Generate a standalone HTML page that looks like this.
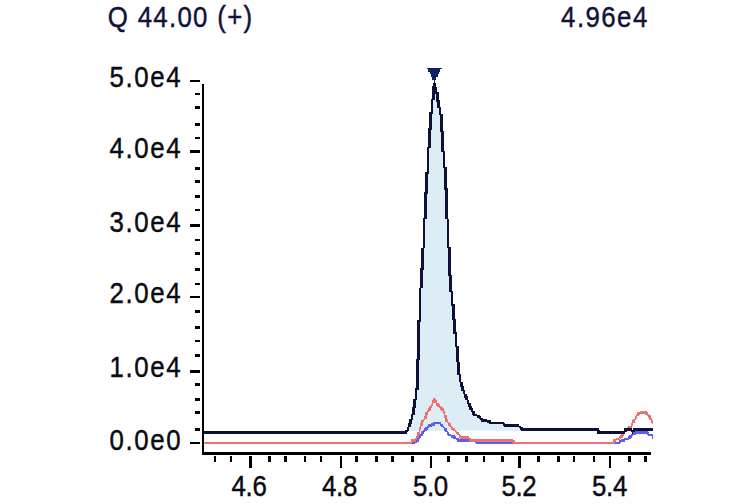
<!DOCTYPE html>
<html><head><meta charset="utf-8"><title>Chromatogram</title>
<style>
html,body{margin:0;padding:0;background:#fff;}
body{width:756px;height:504px;overflow:hidden;font-family:"Liberation Sans",sans-serif;}
svg{display:block;font-family:"Liberation Sans",sans-serif;}
</style></head><body>
<svg width="756" height="504" viewBox="0 0 756 504">
<rect x="0" y="0" width="756" height="504" fill="#ffffff"/>
<polygon points="408.5,430.7 409.2,425.8 411.4,420 413.2,412 414.5,405 415.7,398 416.8,388 417.7,366 419,340 419,330 420.2,298 421.3,275 423,260 423.2,251 424.3,227 425.3,202 427,180 428.2,155 429.5,135 431.2,114 432.7,100 433.6,90 434.3,83.5 436.3,90 437.7,100 440.7,114 441.8,128 442.7,145 444.3,163 445.7,182 447,212 448.7,248 449.8,273 451,288 452.3,301 453.5,314 454.8,328 456.2,340 457.3,354 458.5,367 459.8,378 461.5,385 464,392 466.8,399 469.3,405 472.3,411 474,414.3 478.2,416 482.3,420.2 488.2,421.3 490.7,423 503.2,423.5 505.7,425.5 518.5,425.8 521.8,429.2 521.8,430.7" fill="#dcedf5"/>
<g fill="#5c5cf6" shape-rendering="crispEdges">
<rect x="433.33" y="421.66" width="8" height="1.33"/>
<rect x="430.67" y="423" width="10.67" height="1.33"/>
<rect x="428" y="424.33" width="6.67" height="1.33"/>
<rect x="440" y="424.33" width="2.67" height="1.33"/>
<rect x="426.67" y="425.66" width="5.33" height="1.33"/>
<rect x="441.33" y="425.66" width="2.67" height="1.33"/>
<rect x="442.67" y="427" width="2.67" height="1.33"/>
<rect x="425.33" y="427" width="4" height="1.33"/>
<rect x="424" y="428.33" width="4" height="1.33"/>
<rect x="444" y="428.33" width="2.67" height="2.67"/>
<rect x="422.67" y="429.66" width="4" height="1.33"/>
<rect x="445.33" y="431" width="2.67" height="1.33"/>
<rect x="634.67" y="431" width="13.33" height="1.33"/>
<rect x="421.33" y="431" width="4" height="1.33"/>
<rect x="446.67" y="432.33" width="2.67" height="1.33"/>
<rect x="421.33" y="432.33" width="2.67" height="1.33"/>
<rect x="632" y="432.33" width="17.33" height="1.33"/>
<rect x="446.67" y="433.66" width="4" height="1.33"/>
<rect x="420" y="433.66" width="2.67" height="1.33"/>
<rect x="646.67" y="433.66" width="6.67" height="1.33"/>
<rect x="630.67" y="433.66" width="5.33" height="1.33"/>
<rect x="448" y="435" width="6.67" height="1.33"/>
<rect x="629.33" y="435" width="4" height="1.33"/>
<rect x="418.67" y="435" width="4" height="1.33"/>
<rect x="648" y="435" width="5.33" height="1.33"/>
<rect x="450.67" y="436.33" width="5.33" height="1.33"/>
<rect x="418.67" y="436.33" width="2.67" height="1.33"/>
<rect x="628" y="436.33" width="4" height="1.33"/>
<rect x="652" y="436.33" width="1.33" height="2.67"/>
<rect x="417.33" y="437.66" width="2.67" height="1.33"/>
<rect x="624" y="437.66" width="6.67" height="1.33"/>
<rect x="453.33" y="437.66" width="5.33" height="1.33"/>
<rect x="456" y="439" width="20" height="1.33"/>
<rect x="621.33" y="439" width="8" height="1.33"/>
<rect x="416" y="439" width="2.67" height="1.33"/>
<rect x="618.67" y="440.33" width="6.67" height="1.33"/>
<rect x="413.33" y="440.33" width="5.33" height="1.33"/>
<rect x="457.33" y="440.33" width="20" height="1.33"/>
<rect x="412" y="441.66" width="5.33" height="1.33"/>
<rect x="474.67" y="441.66" width="146.67" height="1.33"/>
<rect x="476" y="443" width="144" height="1.33"/>
<rect x="412" y="443" width="2.67" height="1.33"/>
</g>
<g fill="#ea7272" shape-rendering="crispEdges">
<rect x="433.33" y="397.66" width="1.33" height="1.33"/>
<rect x="433.33" y="399" width="2.67" height="1.33"/>
<rect x="432" y="400.33" width="5.33" height="2.67"/>
<rect x="436" y="403" width="2.67" height="1.33"/>
<rect x="432" y="403" width="1.33" height="1.33"/>
<rect x="430.67" y="404.33" width="2.67" height="1.33"/>
<rect x="436" y="404.33" width="4" height="1.33"/>
<rect x="437.33" y="405.66" width="4" height="1.33"/>
<rect x="429.33" y="405.66" width="2.67" height="2.67"/>
<rect x="438.67" y="407" width="4" height="1.33"/>
<rect x="428" y="408.33" width="2.67" height="1.33"/>
<rect x="440" y="408.33" width="4" height="1.33"/>
<rect x="426.67" y="409.66" width="4" height="1.33"/>
<rect x="441.33" y="409.66" width="2.67" height="1.33"/>
<rect x="640" y="411" width="6.67" height="1.33"/>
<rect x="426.67" y="411" width="2.67" height="1.33"/>
<rect x="442.67" y="411" width="2.67" height="2.67"/>
<rect x="637.33" y="412.33" width="10.67" height="1.33"/>
<rect x="425.33" y="412.33" width="2.67" height="2.67"/>
<rect x="636" y="413.66" width="4" height="1.33"/>
<rect x="645.33" y="413.66" width="4" height="1.33"/>
<rect x="444" y="413.66" width="1.33" height="1.33"/>
<rect x="425.33" y="415" width="1.33" height="1.33"/>
<rect x="646.67" y="415" width="4" height="1.33"/>
<rect x="636" y="415" width="2.67" height="1.33"/>
<rect x="444" y="415" width="2.67" height="2.67"/>
<rect x="648" y="416.33" width="2.67" height="1.33"/>
<rect x="634.67" y="416.33" width="2.67" height="2.67"/>
<rect x="424" y="416.33" width="2.67" height="2.67"/>
<rect x="445.33" y="417.66" width="1.33" height="1.33"/>
<rect x="649.33" y="417.66" width="2.67" height="2.67"/>
<rect x="422.67" y="419" width="2.67" height="1.33"/>
<rect x="633.33" y="419" width="2.67" height="1.33"/>
<rect x="445.33" y="419" width="2.67" height="2.67"/>
<rect x="421.33" y="420.33" width="2.67" height="1.33"/>
<rect x="632" y="420.33" width="2.67" height="2.67"/>
<rect x="650.67" y="420.33" width="2.67" height="2.67"/>
<rect x="446.67" y="421.66" width="2.67" height="1.33"/>
<rect x="421.33" y="421.66" width="1.33" height="1.33"/>
<rect x="652" y="423" width="1.33" height="1.33"/>
<rect x="420" y="423" width="2.67" height="2.67"/>
<rect x="630.67" y="423" width="2.67" height="2.67"/>
<rect x="448" y="423" width="2.67" height="2.67"/>
<rect x="449.33" y="425.66" width="2.67" height="1.33"/>
<rect x="628" y="425.66" width="4" height="1.33"/>
<rect x="420" y="425.66" width="1.33" height="1.33"/>
<rect x="626.67" y="427" width="5.33" height="1.33"/>
<rect x="450.67" y="427" width="2.67" height="1.33"/>
<rect x="418.67" y="427" width="2.67" height="2.67"/>
<rect x="450.67" y="428.33" width="4" height="1.33"/>
<rect x="625.33" y="428.33" width="4" height="1.33"/>
<rect x="624" y="429.66" width="4" height="1.33"/>
<rect x="453.33" y="429.66" width="2.67" height="1.33"/>
<rect x="418.67" y="429.66" width="1.33" height="2.67"/>
<rect x="622.67" y="431" width="4" height="1.33"/>
<rect x="454.67" y="431" width="2.67" height="1.33"/>
<rect x="622.67" y="432.33" width="2.67" height="1.33"/>
<rect x="456" y="432.33" width="2.67" height="1.33"/>
<rect x="417.33" y="432.33" width="2.67" height="2.67"/>
<rect x="621.33" y="433.66" width="2.67" height="1.33"/>
<rect x="457.33" y="433.66" width="2.67" height="1.33"/>
<rect x="417.33" y="435" width="1.33" height="1.33"/>
<rect x="620" y="435" width="4" height="1.33"/>
<rect x="458.67" y="435" width="2.67" height="1.33"/>
<rect x="458.67" y="436.33" width="10.67" height="1.33"/>
<rect x="416" y="436.33" width="2.67" height="1.33"/>
<rect x="618.67" y="436.33" width="4" height="1.33"/>
<rect x="460" y="437.66" width="10.67" height="1.33"/>
<rect x="616" y="437.66" width="5.33" height="1.33"/>
<rect x="414.67" y="437.66" width="2.67" height="1.33"/>
<rect x="613.33" y="439" width="6.67" height="1.33"/>
<rect x="469.33" y="439" width="44" height="1.33"/>
<rect x="410.67" y="439" width="6.67" height="1.33"/>
<rect x="469.33" y="440.33" width="45.33" height="1.33"/>
<rect x="613.33" y="440.33" width="2.67" height="1.33"/>
<rect x="410.67" y="440.33" width="5.33" height="1.33"/>
<rect x="512" y="441.66" width="102.67" height="1.33"/>
<rect x="202.67" y="441.66" width="209.33" height="2.67"/>
<rect x="513.33" y="443" width="101.33" height="1.33"/>
</g>
<g fill="#0f1038" shape-rendering="crispEdges">
<rect x="433.33" y="83" width="2.67" height="2.67"/>
<rect x="432" y="85.66" width="4" height="1.33"/>
<rect x="432" y="87" width="5.33" height="5.33"/>
<rect x="432" y="92.33" width="6.67" height="1.33"/>
<rect x="432" y="93.66" width="2.67" height="5.33"/>
<rect x="436" y="93.66" width="2.67" height="6.67"/>
<rect x="430.67" y="99" width="4" height="1.33"/>
<rect x="436" y="100.33" width="4" height="1.33"/>
<rect x="437.33" y="101.66" width="2.67" height="5.33"/>
<rect x="437.33" y="107" width="4" height="1.33"/>
<rect x="430.67" y="100.33" width="2.67" height="12"/>
<rect x="438.67" y="108.33" width="2.67" height="5.33"/>
<rect x="429.33" y="112.33" width="4" height="1.33"/>
<rect x="438.67" y="113.66" width="4" height="1.33"/>
<rect x="429.33" y="113.66" width="2.67" height="14.67"/>
<rect x="428" y="128.33" width="4" height="1.33"/>
<rect x="440" y="115" width="2.67" height="16"/>
<rect x="440" y="131" width="4" height="1.33"/>
<rect x="428" y="129.66" width="2.67" height="17.33"/>
<rect x="426.67" y="147" width="4" height="1.33"/>
<rect x="441.33" y="132.33" width="2.67" height="18.67"/>
<rect x="441.33" y="151" width="4" height="1.33"/>
<rect x="442.67" y="152.33" width="2.67" height="14.67"/>
<rect x="442.67" y="167" width="4" height="1.33"/>
<rect x="426.67" y="148.33" width="2.67" height="24"/>
<rect x="425.33" y="172.33" width="4" height="1.33"/>
<rect x="444" y="168.33" width="2.67" height="20"/>
<rect x="444" y="188.33" width="4" height="1.33"/>
<rect x="425.33" y="173.66" width="2.67" height="18.67"/>
<rect x="424" y="192.33" width="4" height="1.33"/>
<rect x="424" y="193.66" width="2.67" height="24"/>
<rect x="445.33" y="189.66" width="2.67" height="29.33"/>
<rect x="422.67" y="217.66" width="4" height="1.33"/>
<rect x="446.67" y="219" width="2.67" height="28"/>
<rect x="422.67" y="219" width="2.67" height="29.33"/>
<rect x="446.67" y="247" width="4" height="1.33"/>
<rect x="421.33" y="248.33" width="2.67" height="20"/>
<rect x="420" y="268.33" width="4" height="1.33"/>
<rect x="448" y="248.33" width="2.67" height="26.67"/>
<rect x="448" y="275" width="4" height="1.33"/>
<rect x="420" y="269.66" width="2.67" height="18.67"/>
<rect x="449.33" y="276.33" width="2.67" height="14.67"/>
<rect x="449.33" y="291" width="4" height="1.33"/>
<rect x="450.67" y="292.33" width="2.67" height="12"/>
<rect x="450.67" y="304.33" width="4" height="1.33"/>
<rect x="452" y="305.66" width="2.67" height="13.33"/>
<rect x="418.67" y="288.33" width="2.67" height="32"/>
<rect x="452" y="319" width="4" height="1.33"/>
<rect x="417.33" y="320.33" width="4" height="1.33"/>
<rect x="453.33" y="320.33" width="2.67" height="12"/>
<rect x="453.33" y="332.33" width="4" height="1.33"/>
<rect x="454.67" y="333.66" width="2.67" height="12"/>
<rect x="454.67" y="345.66" width="4" height="1.33"/>
<rect x="417.33" y="321.66" width="2.67" height="37.33"/>
<rect x="416" y="359" width="4" height="1.33"/>
<rect x="456" y="347" width="2.67" height="14.67"/>
<rect x="457.33" y="361.66" width="2.67" height="12"/>
<rect x="457.33" y="373.66" width="4" height="1.33"/>
<rect x="458.67" y="375" width="2.67" height="6.67"/>
<rect x="460" y="381.66" width="2.67" height="4"/>
<rect x="460" y="385.66" width="4" height="1.33"/>
<rect x="416" y="360.33" width="2.67" height="28"/>
<rect x="461.33" y="387" width="2.67" height="2.67"/>
<rect x="414.67" y="388.33" width="4" height="1.33"/>
<rect x="461.33" y="389.66" width="4" height="1.33"/>
<rect x="462.67" y="391" width="2.67" height="2.67"/>
<rect x="464" y="393.66" width="2.67" height="2.67"/>
<rect x="464" y="396.33" width="4" height="1.33"/>
<rect x="414.67" y="389.66" width="2.67" height="9.33"/>
<rect x="465.33" y="397.66" width="2.67" height="2.67"/>
<rect x="413.33" y="399" width="4" height="1.33"/>
<rect x="466.67" y="400.33" width="2.67" height="2.67"/>
<rect x="466.67" y="403" width="4" height="1.33"/>
<rect x="468" y="404.33" width="2.67" height="1.33"/>
<rect x="413.33" y="400.33" width="2.67" height="6.67"/>
<rect x="468" y="405.66" width="4" height="1.33"/>
<rect x="412" y="407" width="4" height="1.33"/>
<rect x="469.33" y="407" width="2.67" height="1.33"/>
<rect x="469.33" y="408.33" width="4" height="1.33"/>
<rect x="470.67" y="409.66" width="2.67" height="1.33"/>
<rect x="470.67" y="411" width="4" height="1.33"/>
<rect x="412" y="408.33" width="2.67" height="5.33"/>
<rect x="472" y="412.33" width="2.67" height="1.33"/>
<rect x="410.67" y="413.66" width="4" height="1.33"/>
<rect x="472" y="413.66" width="5.33" height="1.33"/>
<rect x="473.33" y="415" width="6.67" height="1.33"/>
<rect x="477.33" y="416.33" width="4" height="1.33"/>
<rect x="410.67" y="415" width="2.67" height="4"/>
<rect x="478.67" y="417.66" width="4" height="1.33"/>
<rect x="409.33" y="419" width="4" height="1.33"/>
<rect x="480" y="419" width="6.67" height="1.33"/>
<rect x="481.33" y="420.33" width="9.33" height="1.33"/>
<rect x="409.33" y="420.33" width="2.67" height="2.67"/>
<rect x="486.67" y="421.66" width="17.33" height="1.33"/>
<rect x="408" y="423" width="4" height="1.33"/>
<rect x="489.33" y="423" width="16" height="1.33"/>
<rect x="502.67" y="424.33" width="16" height="1.33"/>
<rect x="408" y="424.33" width="2.67" height="2.67"/>
<rect x="504" y="425.66" width="17.33" height="1.33"/>
<rect x="518.67" y="427" width="4" height="1.33"/>
<rect x="406.67" y="427" width="2.67" height="2.67"/>
<rect x="520" y="428.33" width="78.67" height="1.33"/>
<rect x="624" y="428.33" width="8" height="1.33"/>
<rect x="633.33" y="428.33" width="20" height="1.33"/>
<rect x="405.33" y="429.66" width="4" height="1.33"/>
<rect x="624" y="429.66" width="29.33" height="1.33"/>
<rect x="521.33" y="429.66" width="78.67" height="1.33"/>
<rect x="202.67" y="431" width="205.33" height="1.33"/>
<rect x="597.33" y="431" width="29.33" height="1.33"/>
<rect x="630.67" y="431" width="4" height="1.33"/>
<rect x="597.33" y="432.33" width="28" height="1.33"/>
<rect x="632" y="432.33" width="1.33" height="1.33"/>
<rect x="202.67" y="432.33" width="204" height="1.33"/>
</g>
<g fill="#0e2160" shape-rendering="crispEdges">
<rect x="427" y="68" width="15" height="1"/>
<rect x="428" y="69" width="12" height="2.7"/>
<rect x="430" y="71.7" width="9" height="2.3"/>
<rect x="431" y="74" width="7" height="3"/>
<rect x="432" y="77" width="4" height="2.7"/>
<rect x="434" y="79.7" width="1.2" height="3.3"/>
</g>
<g shape-rendering="crispEdges">
<rect x="202" y="84" width="2.3" height="370.7" fill="#000000"/>
<rect x="202" y="452" width="449" height="2.7" fill="#000000"/>
<rect x="190" y="80" width="10" height="2" fill="#000000"/>
<rect x="190" y="150" width="10" height="3" fill="#000000"/>
<rect x="190" y="224" width="10" height="2.6" fill="#000000"/>
<rect x="190" y="296" width="10" height="2" fill="#000000"/>
<rect x="190" y="370" width="10" height="3" fill="#000000"/>
<rect x="190" y="442" width="10" height="2" fill="#000000"/>
<rect x="195" y="93" width="5" height="2" fill="#000000"/>
<rect x="195" y="106" width="5" height="3" fill="#000000"/>
<rect x="195" y="123" width="5" height="3" fill="#000000"/>
<rect x="195" y="137" width="5" height="2" fill="#000000"/>
<rect x="195" y="167" width="5" height="3" fill="#000000"/>
<rect x="195" y="180" width="5" height="3" fill="#000000"/>
<rect x="195" y="195" width="5" height="3" fill="#000000"/>
<rect x="195" y="209" width="5" height="2" fill="#000000"/>
<rect x="195" y="239" width="5" height="2" fill="#000000"/>
<rect x="195" y="252" width="5" height="3" fill="#000000"/>
<rect x="195" y="268" width="5" height="3" fill="#000000"/>
<rect x="195" y="283" width="5" height="2" fill="#000000"/>
<rect x="195" y="310" width="5" height="3" fill="#000000"/>
<rect x="195" y="326" width="5" height="3" fill="#000000"/>
<rect x="195" y="340" width="5" height="2" fill="#000000"/>
<rect x="195" y="354" width="5" height="3" fill="#000000"/>
<rect x="195" y="383" width="5" height="3" fill="#000000"/>
<rect x="195" y="398" width="5" height="3" fill="#000000"/>
<rect x="195" y="411" width="5" height="3" fill="#000000"/>
<rect x="195" y="428" width="5" height="3" fill="#000000"/>
<rect x="249" y="456" width="3" height="11.5" fill="#000000"/>
<rect x="340" y="456" width="2" height="11.5" fill="#000000"/>
<rect x="430" y="456" width="2" height="11.5" fill="#000000"/>
<rect x="518" y="456" width="3" height="11.5" fill="#000000"/>
<rect x="609" y="456" width="2" height="11.5" fill="#000000"/>
<rect x="214" y="456" width="2" height="6" fill="#000000"/>
<rect x="230" y="456" width="2" height="6" fill="#000000"/>
<rect x="268" y="456" width="3" height="6" fill="#000000"/>
<rect x="284" y="456" width="3" height="6" fill="#000000"/>
<rect x="304" y="456" width="2" height="6" fill="#000000"/>
<rect x="320" y="456" width="2" height="6" fill="#000000"/>
<rect x="355" y="456" width="3" height="6" fill="#000000"/>
<rect x="375" y="456" width="3" height="6" fill="#000000"/>
<rect x="391" y="456" width="3" height="6" fill="#000000"/>
<rect x="411" y="456" width="3" height="6" fill="#000000"/>
<rect x="447" y="456" width="3" height="6" fill="#000000"/>
<rect x="465" y="456" width="3" height="6" fill="#000000"/>
<rect x="483" y="456" width="2" height="6" fill="#000000"/>
<rect x="501" y="456" width="3" height="6" fill="#000000"/>
<rect x="537" y="456" width="3" height="6" fill="#000000"/>
<rect x="557" y="456" width="3" height="6" fill="#000000"/>
<rect x="573" y="456" width="2" height="6" fill="#000000"/>
<rect x="593" y="456" width="2" height="6" fill="#000000"/>
<rect x="628" y="456" width="3" height="6" fill="#000000"/>
<rect x="644" y="456" width="3" height="6" fill="#000000"/>
</g>
<text transform="translate(107.8,26.9) scale(0.85,1)" x="0" y="0" font-size="30.4" fill="#11113a" stroke="#11113a" stroke-width="0.45" textLength="169.88" lengthAdjust="spacing">Q 44.00 (+)</text>
<text transform="translate(561.1,26.9) scale(0.85,1)" x="0" y="0" font-size="30.4" fill="#11113a" stroke="#11113a" stroke-width="0.45" textLength="101.41" lengthAdjust="spacing">4.96e4</text>
<text transform="translate(109.6,86.9) scale(0.85,1)" x="0" y="0" font-size="30.4" fill="#0a0a12" stroke="#0a0a12" stroke-width="0.45" textLength="83.53" lengthAdjust="spacing">5.0e4</text>
<text transform="translate(109.6,158) scale(0.85,1)" x="0" y="0" font-size="30.4" fill="#0a0a12" stroke="#0a0a12" stroke-width="0.45" textLength="83.53" lengthAdjust="spacing">4.0e4</text>
<text transform="translate(109.6,231.8) scale(0.85,1)" x="0" y="0" font-size="30.4" fill="#0a0a12" stroke="#0a0a12" stroke-width="0.45" textLength="83.53" lengthAdjust="spacing">3.0e4</text>
<text transform="translate(109.6,303.4) scale(0.85,1)" x="0" y="0" font-size="30.4" fill="#0a0a12" stroke="#0a0a12" stroke-width="0.45" textLength="83.53" lengthAdjust="spacing">2.0e4</text>
<text transform="translate(109.6,377.4) scale(0.85,1)" x="0" y="0" font-size="30.4" fill="#0a0a12" stroke="#0a0a12" stroke-width="0.45" textLength="83.53" lengthAdjust="spacing">1.0e4</text>
<text transform="translate(109.6,450) scale(0.85,1)" x="0" y="0" font-size="30.4" fill="#0a0a12" stroke="#0a0a12" stroke-width="0.45" textLength="83.53" lengthAdjust="spacing">0.0e0</text>
<text transform="translate(231.6,496.1) scale(0.85,1)" x="0" y="0" font-size="30.4" fill="#0a0a12" stroke="#0a0a12" stroke-width="0.45" textLength="41.41" lengthAdjust="spacing">4.6</text>
<text transform="translate(322.1,496.1) scale(0.85,1)" x="0" y="0" font-size="30.4" fill="#0a0a12" stroke="#0a0a12" stroke-width="0.45" textLength="41.41" lengthAdjust="spacing">4.8</text>
<text transform="translate(412.9,496.1) scale(0.85,1)" x="0" y="0" font-size="30.4" fill="#0a0a12" stroke="#0a0a12" stroke-width="0.45" textLength="41.41" lengthAdjust="spacing">5.0</text>
<text transform="translate(501.5,496.1) scale(0.85,1)" x="0" y="0" font-size="30.4" fill="#0a0a12" stroke="#0a0a12" stroke-width="0.45" textLength="41.41" lengthAdjust="spacing">5.2</text>
<text transform="translate(592.1,496.1) scale(0.85,1)" x="0" y="0" font-size="30.4" fill="#0a0a12" stroke="#0a0a12" stroke-width="0.45" textLength="41.41" lengthAdjust="spacing">5.4</text>
</svg>
</body></html>
